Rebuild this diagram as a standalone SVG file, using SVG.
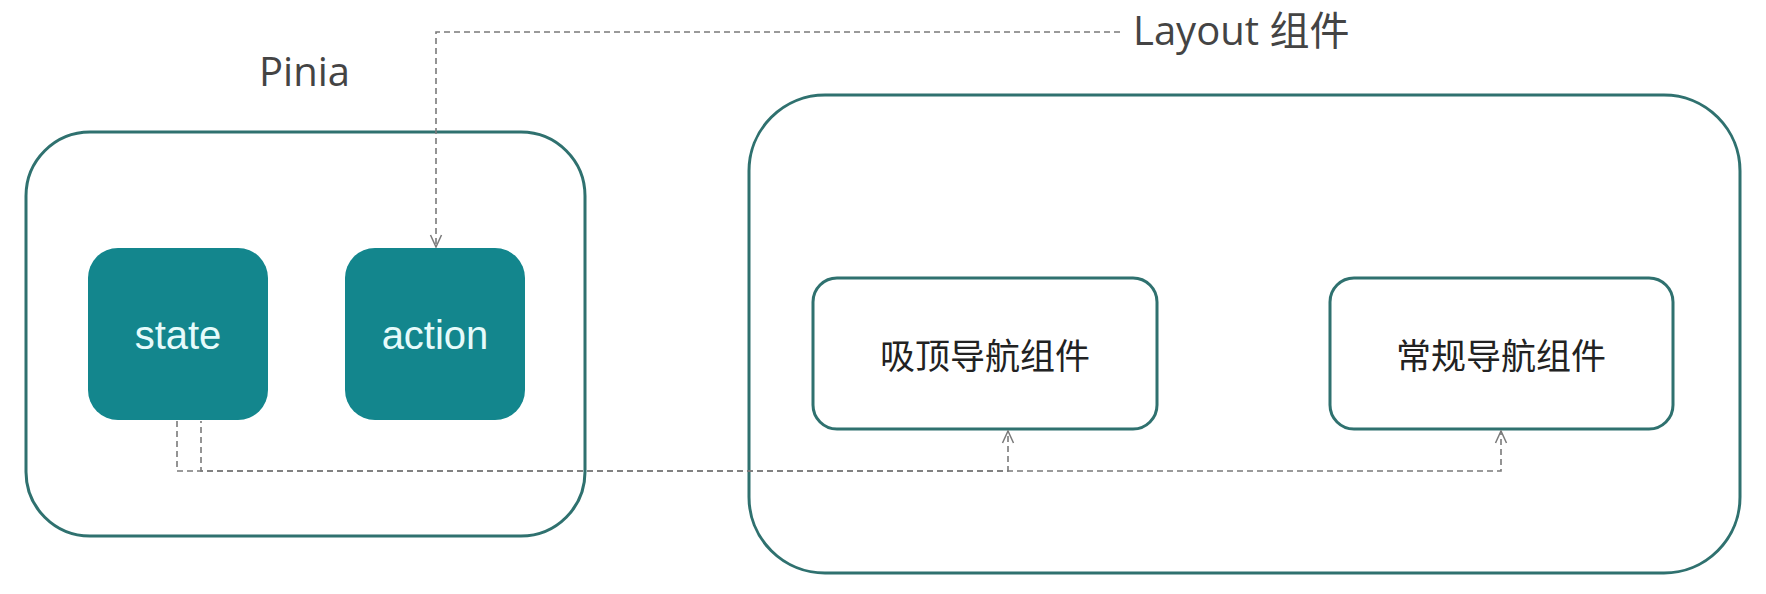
<svg xmlns="http://www.w3.org/2000/svg" width="1766" height="594" viewBox="0 0 1766 594">
  <defs>
    <marker id="arr" viewBox="0 0 14 14" refX="13" refY="7" markerWidth="14" markerHeight="14" markerUnits="userSpaceOnUse" orient="auto">
      <path d="M1,1.5 L13,7 L1,12.5" fill="none" stroke="#7a7a7a" stroke-width="1.5"/>
    </marker>
    <style>
      .outer { fill: #ffffff; stroke: #2f716f; stroke-width: 3; }
      .solid { fill: #13868d; stroke: none; }
      .inner { fill: #ffffff; stroke: #2f716f; stroke-width: 3; }
      .title { font-family: "Open Sans", "Noto Sans CJK SC", sans-serif; font-size: 40px; fill: #444444; }
      .wlabel { font-family: "Liberation Sans", Arial, sans-serif; font-size: 40px; fill: #e6fbfb; text-anchor: middle; }
      .clabel { font-family: "Noto Sans CJK SC", sans-serif; font-size: 35px; fill: #222222; text-anchor: middle; }
      .dash { fill: none; stroke: #7a7a7a; stroke-width: 1.6; stroke-dasharray: 6 4; }
    </style>
  </defs>
  <rect width="1766" height="594" fill="#ffffff"/>

  <g id="pinia">
    <rect class="outer" x="26" y="132" width="559" height="404" rx="64" ry="64"/>
    <text class="title" x="259" y="86">Pinia</text>
  </g>
  <g id="state">
    <rect class="solid" x="88" y="248" width="180" height="172" rx="30" ry="30"/>
    <text class="wlabel" x="178" y="349">state</text>
  </g>
  <g id="action">
    <rect class="solid" x="345" y="248" width="180" height="172" rx="30" ry="30"/>
    <text class="wlabel" x="435" y="349">action</text>
  </g>

  <g id="layout">
    <rect class="outer" x="749" y="95" width="991" height="478" rx="76" ry="76"/>
    <text class="title" x="1133" y="45">Layout 组件</text>
  </g>
  <g id="sticky-nav">
    <rect class="inner" x="813" y="278" width="344" height="151" rx="24" ry="24"/>
    <text class="clabel" x="985" y="369">吸顶导航组件</text>
  </g>
  <g id="normal-nav">
    <rect class="inner" x="1330" y="278" width="343" height="151" rx="24" ry="24"/>
    <text class="clabel" x="1501" y="369">常规导航组件</text>
  </g>

  <g id="connectors">
    <path class="dash" d="M1120,32 L436,32 L436,247" marker-end="url(#arr)"/>
    <path class="dash" d="M177,421 L177,471 L1008,471 L1008,431" marker-end="url(#arr)"/>
    <path class="dash" d="M201,421 L201,471 L1501,471 L1501,431" stroke-dashoffset="4" marker-end="url(#arr)"/>
  </g>
</svg>
